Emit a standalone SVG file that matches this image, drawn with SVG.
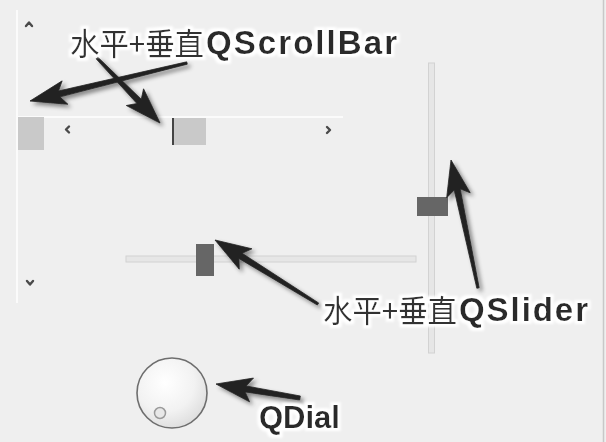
<svg xmlns="http://www.w3.org/2000/svg" width="606" height="442" viewBox="0 0 606 442">
<defs>
<style>
.chev{fill:none;stroke:#4a4a4a;stroke-width:2.4;stroke-linecap:round;stroke-linejoin:round}
.groove{fill:#e6e6e6;stroke:#d2d2d2;stroke-width:1}
.handle{fill:#666}
.arrow{fill:#232323;stroke:#232323;stroke-width:0.8;stroke-linejoin:round}
.cjk{font-family:"Noto Sans CJK SC","Noto Sans",sans-serif;font-size:31px;font-weight:400;fill:#333}
.lat{font-family:"Liberation Sans",Arial,sans-serif;font-size:33px;font-weight:700;fill:#2b2b2b}
</style>
<filter id="shadow" x="-20%" y="-20%" width="140%" height="140%">
<feDropShadow dx="3" dy="3" stdDeviation="2" flood-color="#000" flood-opacity="0.45"/>
</filter>
<filter id="halo" x="-10%" y="-40%" width="120%" height="180%">
<feMorphology in="SourceAlpha" operator="dilate" radius="2.5" result="d"/>
<feGaussianBlur in="d" stdDeviation="1.2" result="b"/>
<feFlood flood-color="#ffffff"/>
<feComposite in2="b" operator="in" result="w"/>
<feMerge><feMergeNode in="w"/><feMergeNode in="SourceGraphic"/></feMerge>
</filter>
<radialGradient id="dialg" cx="40%" cy="35%" r="70%">
<stop offset="0" stop-color="#ffffff"/>
<stop offset="0.6" stop-color="#f2f2f2"/>
<stop offset="1" stop-color="#dcdcdc"/>
</radialGradient>
</defs>
<rect x="0" y="0" width="606" height="442" fill="#efefef"/>
<line x1="603.5" y1="0" x2="603.5" y2="442" stroke="#c8c8c8" stroke-width="1.5"/>

<g id="scrollbar">
<line x1="17" y1="10" x2="17" y2="303" stroke="#fbfbfb" stroke-width="2"/>
<polyline class="chev" points="26,26 29,22.5 32,26"/>
<polyline class="chev" points="27,281 30,284.5 33,281"/>
<line x1="18" y1="117" x2="343" y2="117" stroke="#fbfbfb" stroke-width="2"/>
<rect x="18" y="117" width="26" height="33" fill="#c9c9c9"/>
<polyline class="chev" points="69,126.5 66,129.5 69,132.5"/>
<rect x="172" y="118" width="34" height="27" fill="#c9c9c9"/>
<line x1="173" y1="118" x2="173" y2="145" stroke="#444" stroke-width="2"/>
<polyline class="chev" points="327,127 330,130 327,133"/>
</g>

<g id="hslider">
<rect class="groove" x="126" y="256" width="290" height="6"/>
<rect class="handle" x="196" y="244" width="18" height="32"/>
</g>

<g id="vslider">
<rect class="groove" x="428.5" y="63" width="6" height="290"/>
<rect class="handle" x="417" y="197" width="31" height="19"/>
</g>

<g id="dial">
<circle cx="172" cy="393" r="35" fill="url(#dialg)" stroke="#6e6e6e" stroke-width="1.6"/>
<circle cx="160" cy="413" r="5.5" fill="#e8e8e8" stroke="#9a9a9a" stroke-width="1.5"/>
</g>

<g id="connectors" filter="url(#shadow)">
<polygon class="arrow" points="186.72,61.83 58.45,91.02 62.17,80.87 30,101 67.81,104.19 59.87,96.86 187.28,64.17"/>
<polygon class="arrow" points="96.14,58.84 136.97,103.55 126.32,105.5 160,123 143.56,88.8 141.27,99.37 97.86,57.16"/>
<polygon class="arrow" points="318.63,302.98 242.06,253.28 251.91,248.81 215,240 239.25,269.19 238.9,258.38 317.37,305.02"/>
<polygon class="arrow" points="479.17,287.75 460.13,188.74 470.17,192.75 451,160 446.69,197.71 454.25,189.98 476.83,288.25"/>
<polygon class="arrow" points="300.33,396.03 246.08,385.97 253.48,378.08 216,384 249.54,401.76 245.1,391.89 299.67,399.97"/>
</g>

<g id="label-scrollbar" filter="url(#halo)">
<text class="cjk" x="70" y="55" textLength="134" lengthAdjust="spacingAndGlyphs">水平+垂直</text>
<text class="lat" x="206" y="54" textLength="191" lengthAdjust="spacing">QScrollBar</text>
</g>
<g id="label-slider" filter="url(#halo)">
<text class="cjk" x="323" y="322" textLength="134" lengthAdjust="spacingAndGlyphs">水平+垂直</text>
<text class="lat" x="459" y="321" textLength="129" lengthAdjust="spacing">QSlider</text>
</g>
<g id="label-dial" filter="url(#halo)">
<text class="lat" x="259" y="428" style="font-size:31px">QDial</text>
</g>
</svg>
